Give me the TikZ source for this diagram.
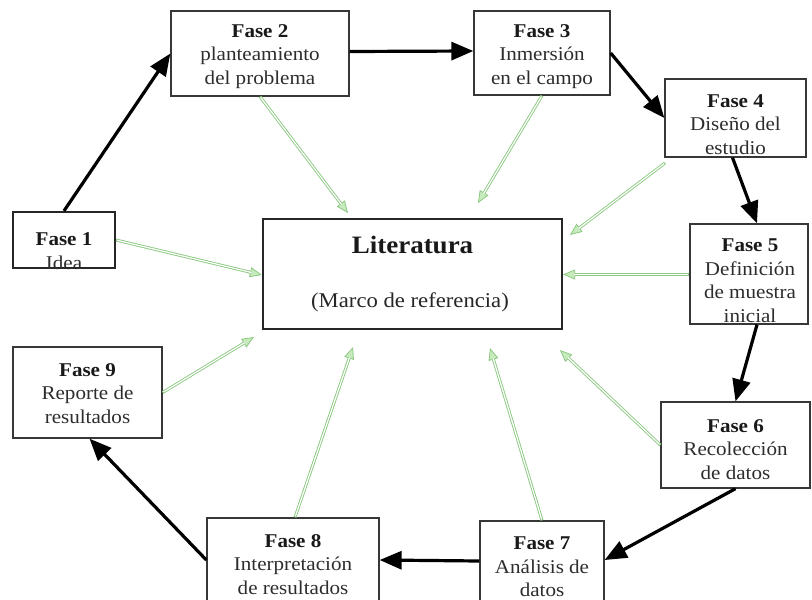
\documentclass[tikz,border=0pt]{standalone}
\usepackage{fontspec}
\setmainfont[FakeStretch=1.08]{Liberation Serif}
\usetikzlibrary{arrows.meta,calc}
\definecolor{gcol}{RGB}{140,200,130}
\definecolor{gfill}{RGB}{200,235,190}
\definecolor{boxc}{RGB}{55,55,55}
\definecolor{txtc}{RGB}{45,45,45}
\tikzset{
  box/.style={draw=boxc, line width=1.3pt, rectangle, inner sep=0pt},
  thickbox/.style={draw=black!85, line width=2.2pt, rectangle, inner sep=0pt},
  txt/.style={inner sep=0pt, align=center, text=txtc, font=\fontsize{19.5}{23.5}\selectfont},
  blk/.style={draw=black, line width=3.2pt, -{Triangle[length=22pt,width=18pt]}},
  grnout/.style={draw=gcol, line width=3pt, -{Triangle[length=12pt,width=10pt,fill=gfill,line width=0.8pt]}},
  grnin/.style={draw=white, line width=1.2pt, shorten >=11pt, shorten <=1pt}
}
\newcommand{\fz}[1]{\textbf{\textcolor{black!90}{#1}}}
\newcommand{\garrow}[2]{\draw[grnout] #1 -- #2; \draw[grnin] #1 -- #2;}
\begin{document}
\begin{tikzpicture}[x=1pt,y=-1pt]
\useasboundingbox (0,0) rectangle (812,600);
% boxes
\node[thickbox, minimum width=102pt, minimum height=56pt] (f1) at (64,240) {};
\node[box, minimum width=178pt, minimum height=85pt] (f2) at (260,53.5) {};
\node[box, minimum width=136pt, minimum height=84pt] (f3) at (542,53) {};
\node[box, minimum width=141pt, minimum height=78pt] (f4) at (735.5,118) {};
\node[box, minimum width=118pt, minimum height=100pt] (f5) at (749,274) {};
\node[box, minimum width=149pt, minimum height=86pt] (f6) at (735.5,445) {};
\node[box, minimum width=124pt, minimum height=90pt] (f7) at (542,566) {};
\node[box, minimum width=172pt, minimum height=94pt] (f8) at (293,565) {};
\node[box, minimum width=149pt, minimum height=91pt] (f9) at (87.5,392.5) {};
\node[thickbox, minimum width=299pt, minimum height=110pt] (lit) at (412.5,274) {};
% texts
\node[txt] (t1) at (64,251) {\fz{Fase 1}\\Idea};
\node[txt] (t2) at (260,56.5) {\fz{Fase 2}\\planteamiento\\del problema};
\node[txt] (t3) at (542,56.5) {\fz{Fase 3}\\Inmersión\\en el campo};
\node[txt] (t4) at (735.5,124.5) {\fz{Fase 4}\\Diseño del\\estudio};
\node[txt] (t5) at (750,280.5) {\fz{Fase 5}\\Definición\\de muestra\\inicial};
\node[txt] (t6) at (735.5,449.5) {\fz{Fase 6}\\Recolección\\de datos};
\node[txt] (t7) at (542,567) {\fz{Fase 7}\\Análisis de\\datos};
\node[txt] (t8) at (293,564.5) {\fz{Fase 8}\\Interpretación\\de resultados};
\node[txt] (t9) at (87.5,393.5) {\fz{Fase 9}\\Reporte de\\resultados};
\node[inner sep=0pt, font=\fontsize{25}{29}\selectfont\bfseries, text=black!90] (lt1) at (412.5,245) {Literatura};
\node[inner sep=0pt, font=\fontsize{21}{25}\selectfont, text=black!85] (lt2) at (410,302) {(Marco de referencia)};
% black arrows
\draw[blk] (f1.north) -- (f2.west);
\draw[blk] ([yshift=2pt]f2.east) -- ([yshift=2pt]f3.west);
\draw[blk] (f3.east) -- (f4.west);
\draw[blk] ([xshift=-3pt]f4.south) -- ([xshift=8pt]f5.north);
\draw[blk] ([xshift=8pt]f5.south) -- (f6.north);
\draw[blk] (f6.south) -- ([yshift=6pt]f7.east);
\draw[blk] ([yshift=5pt]f7.west) -- ([yshift=5pt]f8.east);
\draw[blk] ([yshift=5pt]f8.west) -- ([xshift=2pt]f9.south);
% green arrows
\coordinate (e2) at (348,213);
\coordinate (e3) at (478,203);
\coordinate (e4) at (570,235);
\coordinate (e6) at (560,350);
\coordinate (e7) at (490,348);
\coordinate (e8) at (353,347);
\coordinate (e9) at (254,337);
\coordinate (s4) at (665,163);
\garrow{(f2.south)}{(e2)}
\garrow{(f1.east)}{([yshift=-1pt]lit.west)}
\garrow{(f3.south)}{(e3)}
\garrow{(s4)}{(e4)}
\garrow{([yshift=-0.5pt]f5.west)}{([yshift=-0.5pt]lit.east)}
\garrow{(f6.west)}{(e6)}
\garrow{(f7.north)}{(e7)}
\garrow{([xshift=2pt]f8.north)}{(e8)}
\garrow{(f9.east)}{(e9)}
\end{tikzpicture}
\end{document}
